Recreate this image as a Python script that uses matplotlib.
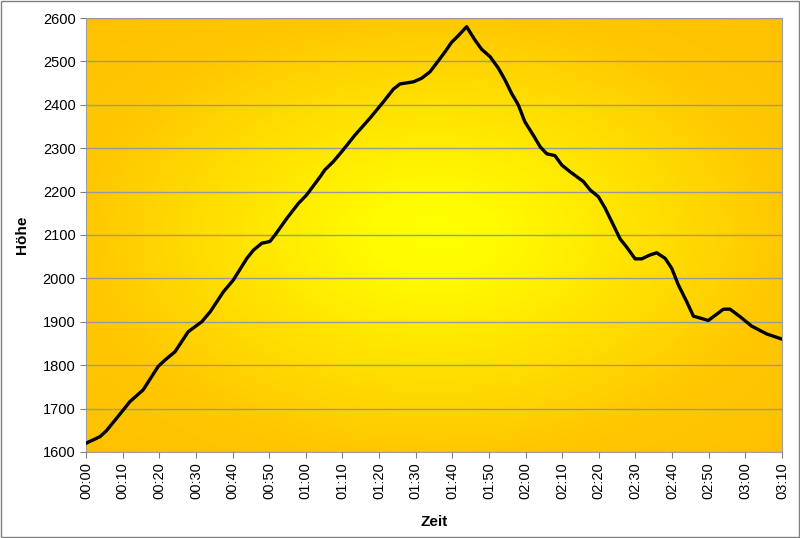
import matplotlib
matplotlib.use('Agg')
import matplotlib.pyplot as plt
import numpy as np
from matplotlib.colors import LinearSegmentedColormap

plt.rcParams['font.family'] = ['Liberation Sans', 'DejaVu Sans']

# Zeit in Minuten, Höhe in m
minutes = [0, 3.8, 5.6, 10.2, 12, 15.6, 19.7, 21.6, 24.3, 27.9, 31.6, 33.9, 37.5, 40.2,
           43.9, 45.7, 48, 50.2, 51.6, 54.8, 58, 60.2, 63.9, 65.2, 67.5, 70.2, 73.4, 77.5,
           81.2, 83.9, 85.7, 89.4, 91.6, 93.9, 95.7, 98, 99.8, 101.6, 103.9, 106.2, 108,
           110.3, 112.6, 114.4, 116.2, 118, 119.8, 122.1, 124, 125.8, 128, 129.9, 132.1,
           135.8, 137.6, 139.9, 141.7, 143.5, 145.8, 147.6, 149.9, 151.7, 154, 155.8,
           158.1, 159.9, 161.7, 164, 165.8, 169.9, 174, 175.8, 178.5, 181.7, 185.8, 190]
hoehe = [1620, 1635, 1649, 1697, 1716, 1743, 1797, 1812, 1831, 1877, 1900, 1923, 1969, 1996,
         2046, 2065, 2081, 2085, 2100, 2138, 2173, 2192, 2234, 2250, 2269, 2296, 2330, 2369,
         2407, 2436, 2448, 2453, 2461, 2476, 2496, 2522, 2544, 2559, 2580, 2549, 2528,
         2511, 2484, 2457, 2426, 2400, 2361, 2330, 2303, 2287, 2283, 2261, 2246,
         2223, 2204, 2188, 2162, 2131, 2091, 2072, 2045, 2045, 2054, 2059,
         2046, 2023, 1985, 1946, 1913, 1903, 1929, 1929, 1912, 1890, 1872, 1860]

tick_minutes = list(range(0, 191, 10))
tick_labels = ['%02d:%02d' % (m // 60, m % 60) for m in tick_minutes]

fig = plt.figure(figsize=(8, 5.38), dpi=100)
ax = fig.add_axes([0.1075, 0.16, 0.87, 0.8065])

# radialer Farbverlauf im Hintergrund
cmap = LinearSegmentedColormap.from_list(
    'gy', [(0, '#FFFF00'), (0.12, '#FFFC00'), (0.71, '#FFC800'), (1, '#FFC000')])
gx, gy = np.meshgrid(np.linspace(-1, 1, 400), np.linspace(-1, 1, 300))
r = np.sqrt(gx ** 2 + gy ** 2) / np.sqrt(2)
ax.imshow(r, cmap=cmap, extent=[0, 190, 1600, 2600], aspect='auto', zorder=0,
          interpolation='bilinear', vmin=0, vmax=1)

ax.plot(minutes, hoehe, color='black', lw=2.4, zorder=3, solid_joinstyle='round')

ax.set_xlim(0, 190)
ax.set_ylim(1600, 2600)
ax.set_xticks(tick_minutes)
ax.set_xticklabels(tick_labels, rotation=90, fontsize=10.5)
ax.set_yticks(range(1600, 2601, 100))
ax.tick_params(axis='y', labelsize=10.5)
ax.tick_params(direction='out', length=4, color='#808080')
ax.yaxis.grid(True, color='#999999', lw=1)
ax.set_axisbelow(False)
for l in ax.get_ygridlines():
    l.set_zorder(1)
for s in ax.spines.values():
    s.set_color('#A0A0A0')
ax.set_xlabel('Zeit', fontsize=11, fontweight='bold', labelpad=11)
ax.set_ylabel('Höhe', fontsize=11, fontweight='bold', labelpad=10)

fig.patches.append(plt.Rectangle((0.001, 0.001), 0.998, 0.998, transform=fig.transFigure,
                                 fill=False, edgecolor='#808080', lw=1))
fig.savefig('out.png', dpi=100)
